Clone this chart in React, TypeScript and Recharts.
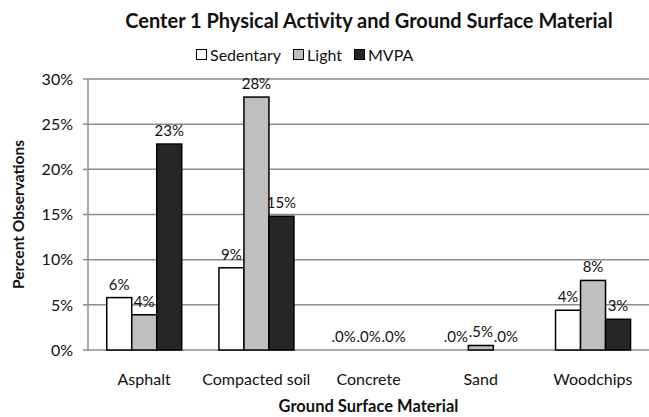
import React from 'react';
import { BarChart, Bar, XAxis, YAxis, CartesianGrid, Label } from 'recharts';

const categories = ['Asphalt', 'Compacted soil', 'Concrete', 'Sand', 'Woodchips'];
const sedentary = [5.8, 9.1, 0, 0, 4.4];
const light = [3.9, 28.0, 0, 0.5, 7.7];
const mvpa = [22.8, 14.8, 0, 0, 3.4];
const yTicks = [0, 5, 10, 15, 20, 25, 30];
const edgeTicks = [0, 1, 2, 3, 4, 5];

const data = categories.map((name, i) => ({
  name,
  Sedentary: sedentary[i],
  Light: light[i],
  MVPA: mvpa[i],
}));

const series = [
  { key: 'Sedentary', fill: '#ffffff' },
  { key: 'Light', fill: '#bfbfbf' },
  { key: 'MVPA', fill: '#262626' },
];

const fmt = (v: any) => {
  const n = Number(v);
  if (n < 1) return '.' + Math.round(n * 10) + '%';
  return Math.round(n) + '%';
};

// bar with its value label drawn above it (also for zero-height bars)
const makeShape = (key: string, fill: string) => (p: any) => {
  const { x, y, width, height, payload } = p;
  return (
    <g>
      {height > 0 && (
        <rect x={x} y={y} width={width} height={height} fill={fill} stroke="#000" strokeWidth={1.5} />
      )}
      <text x={x + width / 2} y={y - 8} textAnchor="middle" fontSize={15} fill="#111">
        {fmt(payload[key])}
      </text>
    </g>
  );
};

const LegendBox = () => (
  <div style={{ position: 'absolute', top: 45, left: 196, display: 'flex', gap: 12, fontSize: 16, color: '#111' }}>
    {series.map((s) => (
      <div key={s.key} style={{ display: 'flex', alignItems: 'center' }}>
        <span style={{ display: 'inline-block', width: 9, height: 9, background: s.fill, border: '1.5px solid #000', marginRight: 3 }} />
        {s.key}
      </div>
    ))}
  </div>
);

export default function App() {
  return (
    <div style={{ position: 'absolute', left: 0, top: 0, width: 649, height: 417, background: '#fff', fontFamily: 'Lato, sans-serif' }}>
      <div style={{ position: 'absolute', top: 8, left: 88, width: 562, textAlign: 'center', fontWeight: 'bold', fontSize: 20, color: '#111' }}>
        Center 1 Physical Activity and Ground Surface Material
      </div>
      <LegendBox />
      <BarChart
        width={649}
        height={417}
        data={data}
        margin={{ top: 79, right: 0, left: 0, bottom: 0 }}
        barCategoryGap="16.7%"
        barGap={0}
      >
        <CartesianGrid vertical={false} stroke="#8c8c8c" strokeWidth={1.5} />
        <XAxis
          dataKey="name"
          axisLine={false}
          tickLine={false}
          height={67}
          tickMargin={18}
          tick={{ fontSize: 16, fill: '#111' }}
        >
          <Label value="Ground Surface Material" position="insideBottom" offset={5} style={{ fontWeight: 'bold', fontSize: 16.5, fill: '#111' }} />
        </XAxis>
        <XAxis
          xAxisId="edges"
          type="number"
          domain={[0, 5]}
          ticks={edgeTicks}
          allowDataOverflow
          height={0}
          axisLine={false}
          tickLine={{ stroke: '#8c8c8c', strokeWidth: 1.5 }}
          tickSize={6}
          tickFormatter={() => ''}
        />
        <YAxis
          width={88}
          domain={[0, 30]}
          ticks={yTicks}
          tickFormatter={(v) => v + '%'}
          axisLine={{ stroke: '#8c8c8c', strokeWidth: 1.5 }}
          tickLine={{ stroke: '#8c8c8c', strokeWidth: 1.5 }}
          tickSize={5}
          tickMargin={10}
          tick={{ fontSize: 16, fill: '#111' }}
        >
          <Label value="Percent Observations" angle={-90} position="insideLeft" offset={18} style={{ textAnchor: 'middle', fontWeight: 'bold', fontSize: 15.5, fill: '#111' }} />
        </YAxis>
        {series.map((s) => (
          <Bar key={s.key} dataKey={s.key} fill={s.fill} isAnimationActive={false} shape={makeShape(s.key, s.fill)} />
        ))}
      </BarChart>
    </div>
  );
}
